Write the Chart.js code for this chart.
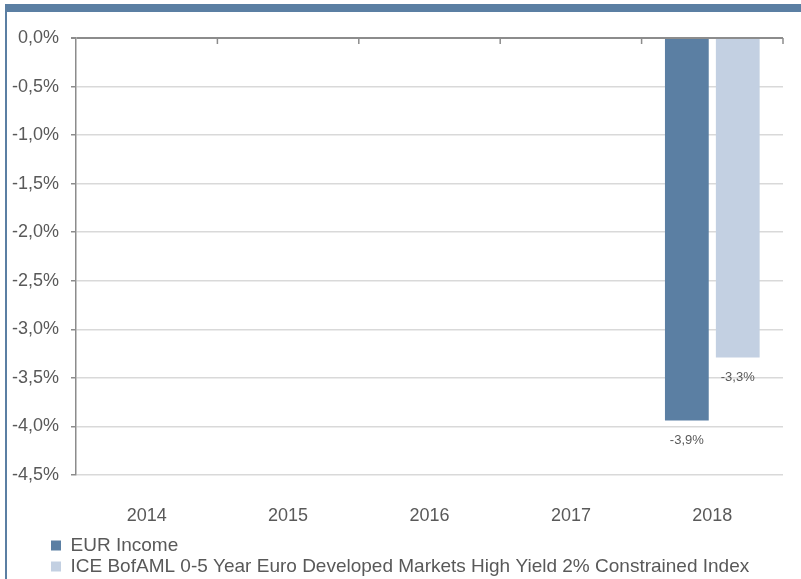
<!DOCTYPE html>
<html>
<head>
<meta charset="utf-8">
<script src="https://cdn.jsdelivr.net/npm/chart.js@4.4.1/dist/chart.umd.min.js"></script>
<style>
  body { margin: 0; background: #fff; }
  #wrap { position: relative; width: 801px; height: 579px; overflow: hidden; }
  #topbar { position: absolute; left: 5px; top: 4px; width: 796px; height: 8px; background: #5b7fa3; }
  #leftbar { position: absolute; left: 5px; top: 4px; width: 2px; height: 575px; background: #5b7fa3; }
  canvas { position: absolute; left: 0; top: 0; }
</style>
</head>
<body>
<div id="wrap">
  <div id="topbar"></div>
  <div id="leftbar"></div>
  <canvas id="grafico" width="801" height="579"></canvas>
</div>
<script>
// dati
const anni = ["2014", "2015", "2016", "2017", "2018"];
const eurIncome = [null, null, null, null, -3.94];
const indiceIce = [null, null, null, null, -3.29];
const nomiSerie = ["EUR Income", "ICE BofAML 0-5 Year Euro Developed Markets High Yield 2% Constrained Index"];

const grigioTesto = "#595959";
const grigioAsse = "#8c8c8c";
const fontBase = "'Liberation Sans', Arial, sans-serif";

function formatoPct(v) {
  return v.toFixed(1).replace(".", ",") + "%";
}

// etichette sotto le barre
const etichette = {
  id: "etichette",
  afterDatasetsDraw(chart) {
    const ctx = chart.ctx;
    ctx.save();
    ctx.font = "13px " + fontBase;
    ctx.fillStyle = grigioTesto;
    ctx.textAlign = "center";
    ctx.textBaseline = "middle";
    chart.data.datasets.forEach((ds, i) => {
      chart.getDatasetMeta(i).data.forEach((bar, j) => {
        const v = ds.data[j];
        if (v === null) return;
        ctx.fillText(formatoPct(v), bar.x, bar.y + 20);
      });
    });
    ctx.restore();
  }
};

// tacche dell'asse x sulla linea dello zero
const taccheX = {
  id: "taccheX",
  afterDraw(chart) {
    const x = chart.scales.x;
    const y0 = chart.scales.y.getPixelForValue(0);
    const passo = x.width / anni.length;
    const ctx = chart.ctx;
    ctx.save();
    ctx.strokeStyle = grigioAsse;
    ctx.lineWidth = 1.5;
    for (let i = 1; i <= anni.length; i++) {
      const px = x.left + passo * i;
      ctx.beginPath();
      ctx.moveTo(px, y0);
      ctx.lineTo(px, y0 + 6);
      ctx.stroke();
    }
    ctx.restore();
  }
};

// sposta la legenda sotto l'asse, allineata alle etichette
const spostaLegenda = {
  id: "spostaLegenda",
  afterLayout(chart) {
    chart.legend.left += 49;
    chart.legend.top += 7;
  }
};

const ctx = document.getElementById("grafico").getContext("2d");
new Chart(ctx, {
  type: "bar",
  data: {
    labels: anni,
    datasets: [
      { label: nomiSerie[0], data: eurIncome, backgroundColor: "#5b7fa3", barPercentage: 0.86, categoryPercentage: 0.72 },
      { label: nomiSerie[1], data: indiceIce, backgroundColor: "#c3d0e2", barPercentage: 0.86, categoryPercentage: 0.72 }
    ]
  },
  options: {
    responsive: false,
    animation: false,
    layout: { padding: { top: 38, right: 18, left: 0, bottom: 0 } },
    plugins: {
      tooltip: { enabled: false },
      legend: {
        position: "bottom",
        align: "start",
        labels: {
          boxWidth: 10,
          boxHeight: 10,
          padding: 2,
          color: grigioTesto,
          font: { size: 19, family: fontBase }
        }
      }
    },
    scales: {
      x: {
        grid: { display: false },
        border: { display: false },
        ticks: {
          color: grigioTesto,
          padding: 22,
          font: { size: 18, family: fontBase }
        },
        afterFit(scale) { scale.height = 52; }
      },
      y: {
        min: -4.5,
        max: 0,
        ticks: {
          stepSize: 0.5,
          padding: 12,
          color: grigioTesto,
          font: { size: 18, family: fontBase },
          callback: (v) => formatoPct(v)
        },
        grid: {
          color: (c) => (c.tick && c.tick.value === 0 ? grigioAsse : "#d9d9d9"),
          lineWidth: (c) => (c.tick && c.tick.value === 0 ? 2 : 1.5),
          tickColor: grigioAsse,
          tickLength: 5
        },
        border: { color: grigioAsse, width: 1.5 },
        afterFit(scale) { scale.width = 76; }
      }
    }
  },
  plugins: [etichette, taccheX, spostaLegenda]
});
</script>
</body>
</html>
